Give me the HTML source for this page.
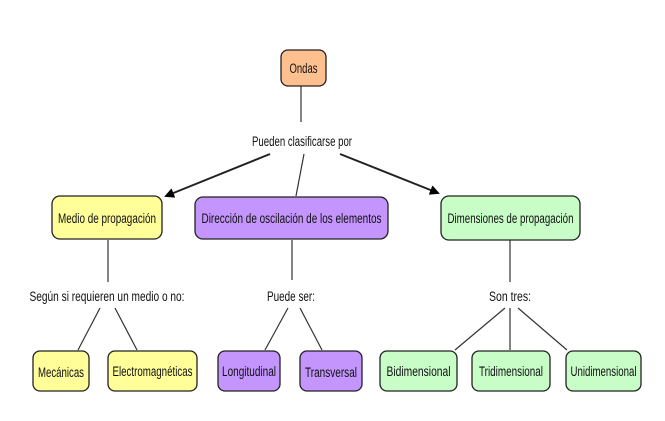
<!DOCTYPE html>
<html><head><meta charset="utf-8"><style>
html,body{margin:0;padding:0;background:#fff;width:665px;height:421px;overflow:hidden}
svg text{font-family:"Liberation Sans",sans-serif;font-size:13.5px;fill:#111}
</style></head><body>
<svg width="665" height="421" viewBox="0 0 665 421" xmlns="http://www.w3.org/2000/svg">
<defs><marker id="a" markerWidth="10" markerHeight="10" refX="8" refY="5" orient="auto" markerUnits="userSpaceOnUse"><path d="M0,0 L10,5 L0,10 z" fill="#000"/></marker></defs>
<g stroke="#333" stroke-width="1.2" fill="none">
<line x1="301" y1="86" x2="301" y2="122"/>
<line x1="304" y1="154" x2="296" y2="196"/>
<line x1="108" y1="240" x2="108" y2="282"/>
<line x1="100" y1="308" x2="78" y2="350"/>
<line x1="115" y1="308" x2="137" y2="350"/>
<line x1="292" y1="240" x2="292" y2="280"/>
<line x1="288" y1="308" x2="265" y2="350"/>
<line x1="300" y1="308" x2="322" y2="350"/>
<line x1="510" y1="240" x2="510" y2="282"/>
<line x1="505" y1="308" x2="455" y2="350"/>
<line x1="510" y1="308" x2="510" y2="350"/>
<line x1="518" y1="308" x2="567" y2="350"/>
</g>
<g stroke="#222" stroke-width="2">
<line x1="270" y1="154" x2="166" y2="196" marker-end="url(#a)"/>
<line x1="340" y1="154" x2="438" y2="193" marker-end="url(#a)"/>
</g>
<g stroke="#222" stroke-width="1.3">
<rect x="281" y="50" width="45" height="36" rx="7" fill="#fdc08e"/>
<rect x="52" y="196" width="110" height="43" rx="8" fill="#fffe98"/>
<rect x="195" y="197" width="193" height="42" rx="8" fill="#c495fd"/>
<rect x="441" y="196" width="139" height="44" rx="8" fill="#c8fdc8"/>
<rect x="33" y="351" width="56" height="40" rx="7" fill="#fffe98"/>
<rect x="108" y="351" width="89" height="40" rx="7" fill="#fffe98"/>
<rect x="218" y="351" width="62" height="40" rx="7" fill="#c495fd"/>
<rect x="300" y="351" width="62" height="40" rx="7" fill="#c495fd"/>
<rect x="380" y="351" width="77" height="40" rx="7" fill="#c8fdc8"/>
<rect x="472" y="351" width="78" height="40" rx="7" fill="#c8fdc8"/>
<rect x="566" y="351" width="75" height="40" rx="7" fill="#c8fdc8"/>
</g>
<g text-anchor="middle">
<text x="303.5" y="73" textLength="28" lengthAdjust="spacingAndGlyphs">Ondas</text>
<text x="302" y="146" textLength="100" lengthAdjust="spacingAndGlyphs">Pueden clasificarse por</text>
<text x="107" y="223" textLength="98" lengthAdjust="spacingAndGlyphs">Medio de propagación</text>
<text x="291.5" y="223" textLength="180" lengthAdjust="spacingAndGlyphs">Dirección de oscilación de los elementos</text>
<text x="510.5" y="223" textLength="126" lengthAdjust="spacingAndGlyphs">Dimensiones de propagación</text>
<text x="107" y="301" textLength="155" lengthAdjust="spacingAndGlyphs">Según si requieren un medio o no:</text>
<text x="291" y="301" textLength="48" lengthAdjust="spacingAndGlyphs">Puede ser:</text>
<text x="510" y="301" textLength="42" lengthAdjust="spacingAndGlyphs">Son tres:</text>
<text x="61" y="377" textLength="46" lengthAdjust="spacingAndGlyphs">Mecánicas</text>
<text x="152.5" y="376" textLength="80" lengthAdjust="spacingAndGlyphs">Electromagnéticas</text>
<text x="249" y="376" textLength="54" lengthAdjust="spacingAndGlyphs">Longitudinal</text>
<text x="331" y="377" textLength="52" lengthAdjust="spacingAndGlyphs">Transversal</text>
<text x="418.5" y="376" textLength="64" lengthAdjust="spacingAndGlyphs">Bidimensional</text>
<text x="511" y="376" textLength="64" lengthAdjust="spacingAndGlyphs">Tridimensional</text>
<text x="603.5" y="376" textLength="66" lengthAdjust="spacingAndGlyphs">Unidimensional</text>
</g>
</svg>
</body></html>
